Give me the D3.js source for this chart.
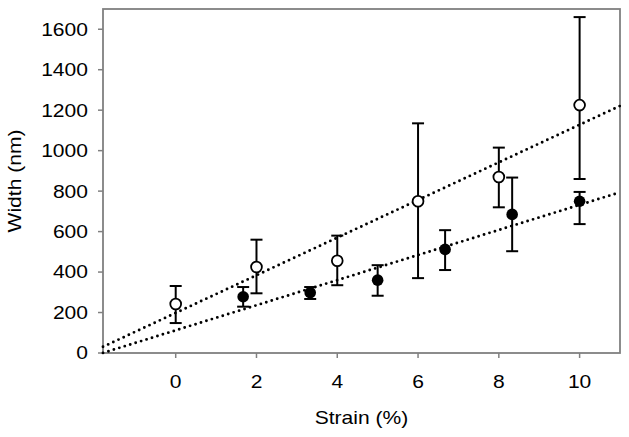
<!DOCTYPE html>
<html>
<head>
<meta charset="utf-8">
<script src="https://cdn.jsdelivr.net/npm/d3@7"></script>
<style>
  body { margin: 0; background: #fff; }
  text { font-family: "Liberation Sans", Arial, sans-serif; fill: #000; }
</style>
</head>
<body>
<svg id="chart" width="629" height="437"></svg>
<script>
    // open circles
    const openX = [0, 2, 4, 6, 8, 10];
    const openY = [242, 425, 456, 750, 870, 1225];
    const openHi = [331, 560, 580, 1135, 1015, 1660];
    const openLo = [148, 295, 335, 370, 720, 860];

    // filled circles
    const fillX = [1.67, 3.33, 5, 6.67, 8.33, 10];
    const fillY = [278, 298, 360, 512, 685, 750];
    const fillHi = [326, 326, 434, 607, 867, 796];
    const fillLo = [229, 267, 283, 410, 503, 637];

    // dotted fit lines (intercept, slope)
    const fitOpen = [198, 93];
    const fitFill = [112, 62];

    const xTicks = [0, 2, 4, 6, 8, 10];
    const yTicks = [0, 200, 400, 600, 800, 1000, 1200, 1400, 1600];

    const pLeft = 103, pRight = 620, pTop = 9, pBottom = 353;
    const axisCol = "#808080";
    const stretch = 1.17;

    const svg = d3.select("#chart");

    const x = d3.scaleLinear().domain([-1.8, 11]).range([pLeft, pRight]);
    const y = d3.scaleLinear().domain([0, 1700]).range([pBottom, pTop]);

    // frame
    svg.append("rect")
        .attr("x", pLeft).attr("y", pTop)
        .attr("width", pRight - pLeft).attr("height", pBottom - pTop)
        .attr("fill", "none")
        .attr("stroke", axisCol)
        .attr("stroke-width", 1.8);

    // y ticks
    svg.append("g").selectAll("line")
        .data(yTicks)
        .join("line")
            .attr("x1", pLeft - 5).attr("x2", pLeft)
            .attr("y1", d => y(d)).attr("y2", d => y(d))
            .attr("stroke", axisCol).attr("stroke-width", 1.5);

    svg.append("g").selectAll("text")
        .data(yTicks)
        .join("text")
            .attr("transform", d => "translate(88," + (y(d) + 6.4) + ") scale(" + stretch + ",1)")
            .attr("text-anchor", "end")
            .style("font-size", "18px")
            .text(d => d);

    // x ticks
    svg.append("g").selectAll("line")
        .data(xTicks)
        .join("line")
            .attr("x1", d => x(d)).attr("x2", d => x(d))
            .attr("y1", pBottom).attr("y2", pBottom + 5)
            .attr("stroke", axisCol).attr("stroke-width", 1.5);

    svg.append("g").selectAll("text")
        .data(xTicks)
        .join("text")
            .attr("transform", d => "translate(" + x(d) + ",388) scale(" + stretch + ",1)")
            .attr("text-anchor", "middle")
            .style("font-size", "18px")
            .text(d => d);

    // axis titles
    svg.append("text")
        .attr("transform", "translate(" + ((pLeft + pRight) / 2) + ",424) scale(" + stretch + ",1)")
        .attr("text-anchor", "middle")
        .style("font-size", "18px")
        .text("Strain (%)");

    svg.append("text")
        .attr("transform", "translate(21," + ((pTop + pBottom) / 2) + ") rotate(-90) scale(" + stretch + ",1)")
        .attr("text-anchor", "middle")
        .style("font-size", "18px")
        .text("Width (nm)");

    // fit lines
    const xd = x.domain();
    [fitOpen, fitFill].forEach(f => {
        svg.append("line")
            .attr("x1", x(xd[0])).attr("y1", y(f[0] + f[1] * xd[0]))
            .attr("x2", x(xd[1])).attr("y2", y(f[0] + f[1] * xd[1]))
            .attr("stroke", "#000")
            .attr("stroke-width", 2.9)
            .attr("stroke-linecap", "round")
            .attr("stroke-dasharray", "0,5.7");
    });

    // error bars
    function errorBars(xs, hi, lo) {
        const g = svg.append("g").attr("stroke", "#000").attr("stroke-width", 2);
        const idx = d3.range(xs.length);
        g.selectAll(".v").data(idx).join("line")
            .attr("x1", i => x(xs[i])).attr("x2", i => x(xs[i]))
            .attr("y1", i => y(hi[i])).attr("y2", i => y(lo[i]));
        g.selectAll(".h").data(idx).join("line")
            .attr("x1", i => x(xs[i]) - 6).attr("x2", i => x(xs[i]) + 6)
            .attr("y1", i => y(hi[i])).attr("y2", i => y(hi[i]));
        g.selectAll(".l").data(idx).join("line")
            .attr("x1", i => x(xs[i]) - 6).attr("x2", i => x(xs[i]) + 6)
            .attr("y1", i => y(lo[i])).attr("y2", i => y(lo[i]));
    }
    errorBars(openX, openHi, openLo);
    errorBars(fillX, fillHi, fillLo);

    // markers
    svg.append("g").selectAll("circle")
        .data(d3.range(openX.length))
        .join("circle")
            .attr("cx", i => x(openX[i])).attr("cy", i => y(openY[i]))
            .attr("r", 5.4)
            .attr("fill", "#fff")
            .attr("stroke", "#000")
            .attr("stroke-width", 1.8);

    svg.append("g").selectAll("circle")
        .data(d3.range(fillX.length))
        .join("circle")
            .attr("cx", i => x(fillX[i])).attr("cy", i => y(fillY[i]))
            .attr("r", 5.8)
            .attr("fill", "#000");
</script>
</body>
</html>
